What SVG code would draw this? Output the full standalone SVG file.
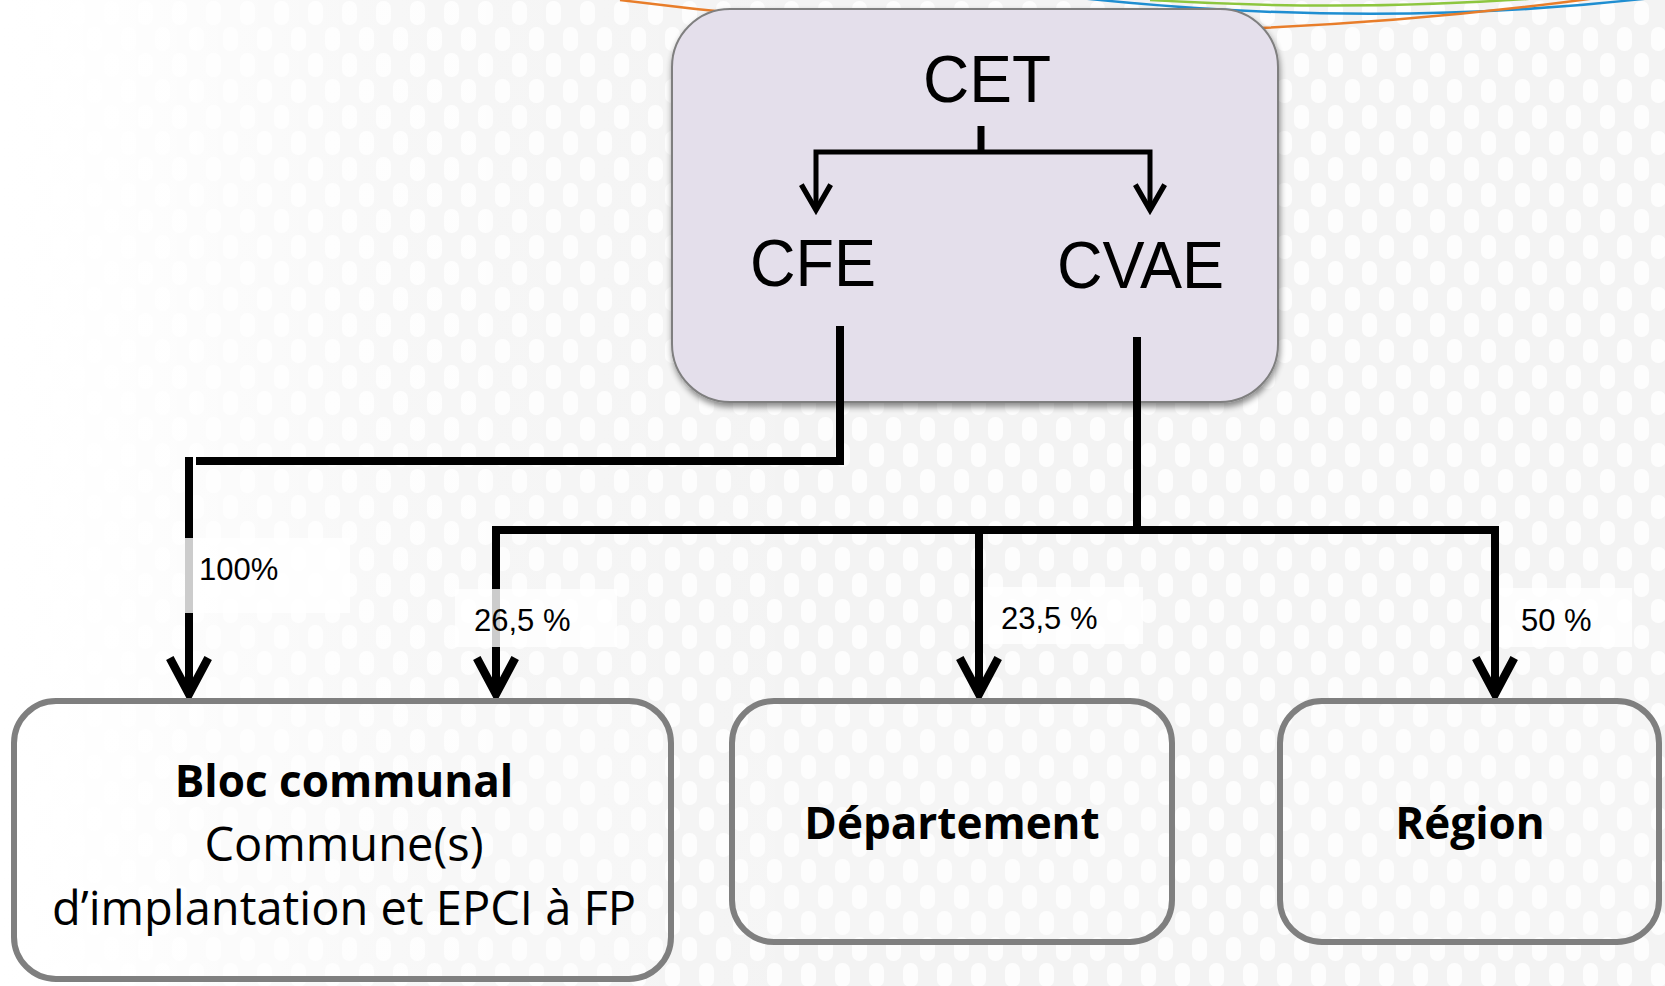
<svg xmlns="http://www.w3.org/2000/svg" width="1665" height="986" viewBox="0 0 1665 986">
  <style>
    .big { font-family: "Liberation Sans", Arial, sans-serif; font-size: 66px; fill: #000; }
    .pct { font-family: "Liberation Sans", Arial, sans-serif; font-size: 31px; fill: #000; }
    .name { font-family: "Open Sans", "Liberation Sans", sans-serif; font-size: 44px; fill: #000; text-anchor: middle; }
    .reg { font-size: 47px; }
    .bold { font-weight: bold; }
    .box { fill: #ffffff; fill-opacity: 0.2; stroke: #7f7f7f; stroke-width: 6; }
    .conn { fill: none; stroke: #000; stroke-linejoin: miter; }
    .lblbg { fill: #ffffff; fill-opacity: 0.8; }
    .arc { fill: none; stroke-width: 2.5; }
  </style>
  <defs>
    <pattern id="checker" width="34" height="52" patternUnits="userSpaceOnUse">
      <rect width="34" height="52" fill="#f3f3f3"/>
      <rect x="2" y="1" width="15" height="24" rx="7" fill="#fdfdfd"/>
      <rect x="19" y="27" width="15" height="24" rx="7" fill="#fdfdfd"/>
    </pattern>
    <linearGradient id="fadeLeft" x1="0" y1="0" x2="1" y2="0">
      <stop offset="0" stop-color="#ffffff" stop-opacity="1"/>
      <stop offset="0.06" stop-color="#ffffff" stop-opacity="0.95"/>
      <stop offset="0.25" stop-color="#ffffff" stop-opacity="0.3"/>
      <stop offset="0.5" stop-color="#ffffff" stop-opacity="0"/>
    </linearGradient>
    <filter id="shadow" x="-10%" y="-10%" width="120%" height="125%">
      <feGaussianBlur in="SourceAlpha" stdDeviation="3"/>
      <feOffset dx="1" dy="4" result="b"/>
      <feComponentTransfer><feFuncA type="linear" slope="0.45"/></feComponentTransfer>
      <feMerge><feMergeNode/><feMergeNode in="SourceGraphic"/></feMerge>
    </filter>
    <marker id="arrowBig" markerUnits="userSpaceOnUse" orient="auto-start-reverse" refX="0" refY="0" markerWidth="60" markerHeight="60" viewBox="-40 -25 50 50" overflow="visible">
      <path d="M -30 -16 L 0 0 L -30 16" fill="none" stroke="#000" stroke-width="7" stroke-linejoin="miter" stroke-miterlimit="10"/>
    </marker>
    <marker id="arrowSmall" markerUnits="userSpaceOnUse" orient="auto-start-reverse" refX="0" refY="0" markerWidth="40" markerHeight="40" viewBox="-25 -15 30 30" overflow="visible">
      <path d="M -19 -11 L 0 0 L -19 11" fill="none" stroke="#000" stroke-width="4" stroke-linejoin="miter" stroke-miterlimit="10"/>
    </marker>
  </defs>

  <g id="background">
    <rect width="1665" height="986" fill="url(#checker)"/>
    <rect width="1665" height="986" fill="url(#fadeLeft)"/>
    <path class="arc" d="M 1150 0 Q 1350 12 1540 -2" stroke="#8dc63f"/>
    <path class="arc" d="M 1080 -2 Q 1380 30 1660 -3" stroke="#1f8ed1"/>
    <path class="arc" d="M 620 0 Q 1150 68 1665 -12" stroke="#e87d2a"/>
  </g>

  <g id="node-cet">
    <rect x="672" y="9" width="606" height="393" rx="58" ry="58" fill="#e4dfeb" stroke="#7f7f7f" stroke-width="2" filter="url(#shadow)"/>
    <text class="big" x="923" y="102" textLength="128" lengthAdjust="spacingAndGlyphs">CET</text>
  </g>
  <g id="node-cfe">
    <text class="big" x="750" y="286" textLength="126" lengthAdjust="spacingAndGlyphs">CFE</text>
  </g>
  <g id="node-cvae">
    <text class="big" x="1057" y="288" textLength="167" lengthAdjust="spacingAndGlyphs">CVAE</text>
  </g>

  <g id="connectors">
    <line class="conn" x1="981" y1="126" x2="981" y2="152" stroke-width="7"/>
    <path class="conn" d="M 816 210 V 152 H 1150 V 210" stroke-width="5" marker-start="url(#arrowSmall)" marker-end="url(#arrowSmall)"/>
    <path class="conn" d="M 840 326 V 461 H 196" stroke-width="8"/>
    <path class="conn" d="M 189 457 V 694" stroke-width="8" marker-end="url(#arrowBig)"/>
    <line class="conn" x1="1137" y1="337" x2="1137" y2="530" stroke-width="8"/>
    <path class="conn" d="M 496 694 V 530 H 1495 V 694" stroke-width="8" marker-start="url(#arrowBig)" marker-end="url(#arrowBig)"/>
    <path class="conn" d="M 979 530 V 694" stroke-width="8" marker-end="url(#arrowBig)"/>
  </g>

  <g id="labels">
    <rect class="lblbg" x="185" y="538" width="165" height="75"/>
    <text class="pct" x="199" y="580">100%</text>
    <rect class="lblbg" x="455" y="589" width="162" height="58"/>
    <text class="pct" x="474" y="631">26,5 %</text>
    <rect class="lblbg" x="983" y="587" width="160" height="57"/>
    <text class="pct" x="1001" y="629">23,5 %</text>
    <rect class="lblbg" x="1499" y="588" width="133" height="59"/>
    <text class="pct" x="1521" y="631">50 %</text>
  </g>

  <g id="node-bloc">
    <rect class="box" x="14" y="701" width="657" height="278" rx="42" ry="42"/>
    <text class="name bold" x="344" y="797">Bloc communal</text>
    <text class="name reg" x="344" y="861">Commune(s)</text>
    <text class="name reg" x="344" y="925">d’implantation et EPCI à FP</text>
  </g>
  <g id="node-departement">
    <rect class="box" x="732" y="701" width="440" height="241" rx="42" ry="42"/>
    <text class="name bold" x="952" y="839">Département</text>
  </g>
  <g id="node-region">
    <rect class="box" x="1280" y="701" width="379" height="241" rx="42" ry="42"/>
    <text class="name bold" x="1470" y="839">Région</text>
  </g>
</svg>
